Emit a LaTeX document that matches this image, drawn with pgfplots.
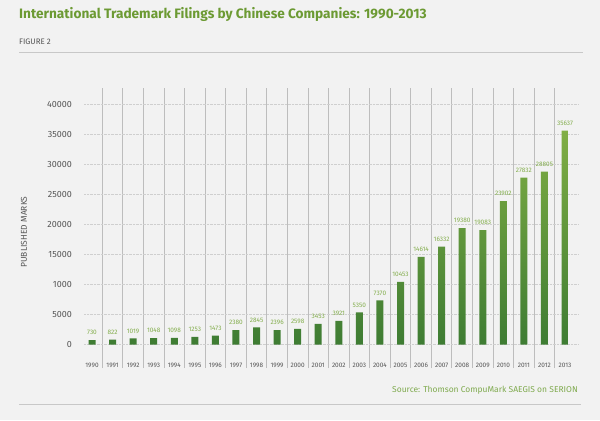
\documentclass[border=0pt]{standalone}
\usepackage{fontspec}
\setmainfont{Fira Sans}
\usepackage{pgfplots}
\pgfplotsset{compat=1.18}
\definecolor{bgcol}{HTML}{F2F2F2}
\definecolor{titlecol}{HTML}{6C9A33}
\definecolor{srccol}{HTML}{7FAA4E}
\definecolor{valcol}{HTML}{84AE4E}
\definecolor{bartop}{HTML}{80AE44}
\definecolor{barbot}{HTML}{3E7C33}
\definecolor{sepcol}{HTML}{BDBDBD}
\definecolor{gridcol}{HTML}{CFCFCF}
\definecolor{rulecol}{HTML}{C8C8C8}
\definecolor{txtcol}{HTML}{555555}
\begin{document}
\begin{tikzpicture}[x=1bp,y=1bp]
\fill[bgcol] (0,0) rectangle (600,420);
\node[anchor=base west, inner sep=0pt, text=titlecol, font=\fontsize{13.7}{15}\selectfont\bfseries] at (19,401.7) {International Trademark Filings by Chinese Companies: 1990-2013};
\node[anchor=base west, inner sep=0pt, text=txtcol, font=\fontsize{8}{9}\selectfont] at (19,376) {FIGURE 2};
\draw[rulecol, line width=1bp] (19,367.3) -- (583,367.3);
\draw[rulecol, line width=1bp] (19,16) -- (581,16);
\node[anchor=base east, inner sep=0pt, text=srccol, font=\fontsize{8.5}{10}\selectfont] at (578,28) {Source: Thomson CompuMark SAEGIS on SERION};
\node[rotate=90, inner sep=0pt, text=txtcol, font=\fontsize{8.5}{10}\selectfont] at (24,188) {PUBLISHED MARKS};
\begin{axis}[
  at={(84bp,52bp)}, anchor=south west,
  width=495bp, height=280bp, scale only axis,
  xmin=-0.39, xmax=23.68, ymin=-3917, ymax=42750,
  axis line style={draw=none}, tick style={draw=none},
  scaled y ticks=false,
  /pgf/number format/assume math mode=true,
  /pgf/number format/1000 sep={},
  xtick={0,...,23},
  xticklabels={1990,1991,1992,1993,1994,1995,1996,1997,1998,1999,2000,2001,2002,2003,2004,2005,2006,2007,2008,2009,2010,2011,2012,2013},
  xticklabel style={font=\fontsize{6.5}{7}\selectfont, text=txtcol, anchor=center, yshift=3bp, inner sep=0pt},
  minor xtick={0.5,1.5,...,22.5},
  xminorgrids,
  minor grid style={sepcol, line width=0.9bp},
  ytick={0,5000,10000,15000,20000,25000,30000,35000,40000},
  yticklabels={0,5000,1000,15000,20000,25000,30000,35000,40000},
  yticklabel style={font=\fontsize{9}{10}\selectfont, text=txtcol, anchor=east, inner sep=0pt, xshift=-12bp},
  ymajorgrids,
  major grid style={gridcol, densely dotted, line width=0.6bp},
  clip=false,
]
\addplot[ybar, bar width=7bp, draw=none, top color=bartop, bottom color=barbot,
  nodes near coords,
  every node near coord/.append style={font=\fontsize{6.5}{7}\selectfont, text=valcol, inner sep=0pt, anchor=south, yshift=5bp}]
coordinates {
(0,730) (1,822) (2,1019) (3,1048) (4,1098) (5,1253) (6,1473) (7,2380)
(8,2845) (9,2396) (10,2598) (11,3453) (12,3921) (13,5350) (14,7370) (15,10453)
(16,14614) (17,16332) (18,19380) (19,19083) (20,23902) (21,27832) (22,28805) (23,35637)
};
\end{axis}
\end{tikzpicture}
\end{document}
